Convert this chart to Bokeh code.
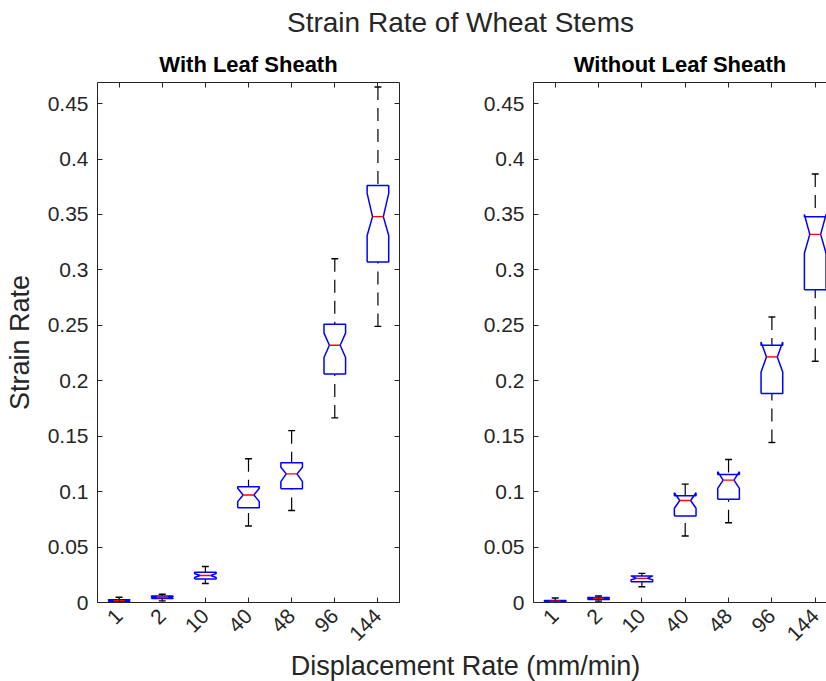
import numpy as np
from bokeh.plotting import figure
from bokeh.models import FixedTicker, LinearAxis, Label, ColumnDataSource
from bokeh.layouts import column, row
from bokeh.embed import file_html
from bokeh.resources import INLINE

# ---------------- data ----------------
categories = ["1", "2", "10", "40", "48", "96", "144"]
positions = [1, 2, 3, 4, 5, 6, 7]
y_ticks = [0, 0.05, 0.1, 0.15, 0.2, 0.25, 0.3, 0.35, 0.4, 0.45]
y_tick_labels = ["0", "0.05", "0.1", "0.15", "0.2", "0.25", "0.3", "0.35", "0.4", "0.45"]

# With Leaf Sheath
with_low = [0.0000, 0.0015, 0.0172, 0.0690, 0.0830, 0.1665, 0.2490]
with_q1 = [0.0008, 0.0035, 0.0212, 0.0855, 0.1026, 0.2060, 0.3070]
with_notch_lo = [0.0010, 0.0038, 0.0225, 0.0910, 0.1090, 0.2210, 0.3310]
with_median = [0.0016, 0.0045, 0.0243, 0.0970, 0.1160, 0.2320, 0.3480]
with_notch_hi = [0.0022, 0.0052, 0.0261, 0.1030, 0.1220, 0.2430, 0.3690]
with_q3 = [0.0025, 0.0058, 0.0272, 0.1044, 0.1260, 0.2510, 0.3760]
with_high = [0.0048, 0.0075, 0.0325, 0.1296, 0.1550, 0.3100, 0.4650]

# Without Leaf Sheath
without_low = [0.0000, 0.0012, 0.0142, 0.0600, 0.0719, 0.1443, 0.2176]
without_q1 = [0.0006, 0.0027, 0.0188, 0.0780, 0.0932, 0.1885, 0.2820]
without_notch_lo = [0.0008, 0.0032, 0.0205, 0.0850, 0.1030, 0.2080, 0.3150]
without_median = [0.0012, 0.0038, 0.0218, 0.0920, 0.1104, 0.2215, 0.3320]
without_notch_hi = [0.0016, 0.0044, 0.0240, 0.0990, 0.1180, 0.2350, 0.3500]
without_q3 = [0.0018, 0.0045, 0.0239, 0.0962, 0.1155, 0.2320, 0.3480]
without_high = [0.0040, 0.0058, 0.0263, 0.1068, 0.1290, 0.2575, 0.3865]

main_title = "Strain Rate of Wheat Stems"
x_label = "Displacement Rate (mm/min)"
y_label = "Strain Rate"
panel_titles = ["With Leaf Sheath", "Without Leaf Sheath"]

# ---------------- style ----------------
FONT = "Liberation Sans"
AX = "#262626"
BOX_W = 0.25
NOTCH_R = 0.5
CAP_W = 0.08
TOP_H = 44
ROW_H = 606
BOT_H = 31


def styled_axis(labels, ticks, font_size="21px", **kw):
    ax = LinearAxis(
        ticker=FixedTicker(ticks=ticks),
        major_label_overrides={t: l for t, l in zip(ticks, labels)},
        major_tick_in=5, major_tick_out=0, minor_tick_in=0, minor_tick_out=0,
        axis_line_color=AX, major_tick_line_color=AX,
        major_label_text_font=FONT, major_label_text_font_size=font_size,
        major_label_text_color=AX, **kw)
    return ax


def panel(title, low, q1, nlo, med, nhi, q3, high, width, bl, br, x_end,
          with_ylabel, right_axis, title_offset):
    p = figure(width=width, height=ROW_H, x_range=(0.5, x_end), y_range=(0, 0.469),
               output_backend="svg", toolbar_location=None,
               x_axis_type=None, y_axis_type=None,
               min_border_left=bl, min_border_right=br,
               min_border_top=38, min_border_bottom=47)
    p.outline_line_color = None
    p.grid.visible = False
    p.background_fill_color = "white"
    p.border_fill_color = "white"

    below = styled_axis(categories, positions, major_label_orientation=np.pi / 4,
                        major_label_standoff=10)
    p.add_layout(below, "below")
    above = styled_axis([""] * 7, positions, font_size="0px", major_label_standoff=0)
    p.add_layout(above, "above")
    left = styled_axis(y_tick_labels, y_ticks, major_label_standoff=9)
    if with_ylabel:
        left.axis_label = y_label
        left.axis_label_text_font = FONT
        left.axis_label_text_font_size = "27px"
        left.axis_label_text_font_style = "normal"
        left.axis_label_text_color = AX
        left.axis_label_standoff = 10
    p.add_layout(left, "left")
    if right_axis:
        right = styled_axis([""] * 10, y_ticks, font_size="0px", major_label_standoff=0)
        p.add_layout(right, "right")

    p.title.text = title
    p.title.align = "center"
    p.title.text_font = FONT
    p.title.text_font_size = "22px"
    p.title.text_font_style = "bold"
    p.title.text_color = "#000000"
    p.title.offset = title_offset
    p.title.standoff = 11

    xs_box, ys_box = [], []
    for x, a, b, m, c, d in zip(positions, q1, nlo, med, nhi, q3):
        xs_box.append([x - BOX_W, x - BOX_W, x - BOX_W * NOTCH_R, x - BOX_W, x - BOX_W,
                       x + BOX_W, x + BOX_W, x + BOX_W * NOTCH_R, x + BOX_W, x + BOX_W,
                       x - BOX_W])
        ys_box.append([a, b, m, c, d, d, c, m, b, a, a])

    src = ColumnDataSource(dict(
        x=positions, low=low, q1=q1, med=med, q3=q3, high=high,
        x0=[x - CAP_W for x in positions], x1=[x + CAP_W for x in positions],
        m0=[x - BOX_W * NOTCH_R for x in positions],
        m1=[x + BOX_W * NOTCH_R for x in positions]))

    # whiskers (drawn from cap toward box)
    p.segment(x0="x", y0="high", x1="x", y1="q3", source=src, line_color="black",
              line_width=1.2, line_dash="13 8")
    p.segment(x0="x", y0="low", x1="x", y1="q1", source=src, line_color="black",
              line_width=1.2, line_dash="13 8")
    # caps
    p.segment(x0="x0", y0="high", x1="x1", y1="high", source=src, line_color="black",
              line_width=1.4)
    p.segment(x0="x0", y0="low", x1="x1", y1="low", source=src, line_color="black",
              line_width=1.4)
    # boxes
    p.multi_line(xs=xs_box, ys=ys_box, line_color="#0000ff", line_width=1.5)
    # medians
    p.segment(x0="m0", y0="med", x1="m1", y1="med", source=src, line_color="#ff0000",
              line_width=1.4)
    return p


left_fig = panel(panel_titles[0], with_low, with_q1, with_notch_lo, with_median,
                 with_notch_hi, with_q3, with_high, 440, 97, 41, 7.5, True, True, 0)
right_fig = panel(panel_titles[1], without_low, without_q1, without_notch_lo,
                  without_median, without_notch_hi, without_q3, without_high,
                  386, 93, 0, 7.26, False, False, 4)


def strip(h, text, x, y, size):
    s = figure(width=826, height=h, x_range=(0, 826), y_range=(0, h),
               output_backend="svg", toolbar_location=None,
               x_axis_type=None, y_axis_type=None, min_border=0)
    s.outline_line_color = None
    s.grid.visible = False
    s.add_layout(Label(x=x, y=y, text=text, text_align="center", text_baseline="middle",
                       text_font=FONT, text_font_size=size, text_color=AX))
    return s


top = strip(TOP_H, main_title, 460, TOP_H - 22, "28px")
bottom = strip(BOT_H, x_label, 465, BOT_H - 15, "27px")

layout = column(top, row(left_fig, right_fig), bottom)

open("out.html", "w").write(file_html(layout, INLINE))
